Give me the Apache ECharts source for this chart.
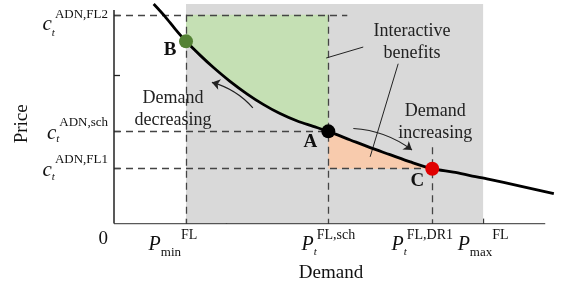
<!DOCTYPE html>
<html>
<head>
<meta charset="utf-8">
<script src="https://cdn.jsdelivr.net/npm/echarts@6/dist/echarts.min.js"></script>
<style>
  html, body { margin: 0; padding: 0; background: #fff; }
  #chart { width: 563px; height: 288px; }
</style>
</head>
<body>
<div id="chart"></div>
<script>
// 需求-价格示意图
const SERIF = "'Liberation Serif', 'Times New Roman', serif";

// 需求轴上的关键点
const pMin = 16.7;
const pSch = 49.7;
const pDR1 = 73.8;
const pMax = 85.6;
const xTicks = [pMin, 26, pSch, pDR1, pMax];
const xTickLabels = [['P', 'min', 'FL'], ['P', 't', 'FL,sch'], ['P', 't', 'FL,DR1'], ['P', 'max', 'FL']];

// 价格轴上的关键点
const cFL2 = 95.1;
const cSch = 42.0;
const cFL1 = 25.0;
const yTicks = [cFL2, 67.4, cSch, cFL1];
const yTickLabels = ['ADN,FL2', 'ADN,sch', 'ADN,FL1'];

// 需求曲线 (demand, price)
const demandCurve = [
  [9.2, 100], [11.8, 94.4], [14.2, 88.6], [16.7, 83.0], [20.0, 76.6], [23.0, 71.2],
  [26.9, 64.8], [30.9, 59.0], [34.6, 54.3], [38.5, 50.1], [42.5, 46.7], [46.2, 44.3],
  [49.7, 42.0], [54.8, 38.1], [59.4, 34.6], [64.0, 31.4], [68.7, 28.1], [73.8, 25.0],
  [78.7, 23.4], [82.6, 21.9], [86.5, 20.4], [94.2, 17.1], [102.0, 13.6]
];

// 工作点 B / A / C
const points = [
  { name: 'B', value: [pMin, 83.0], color: '#548235', offset: [-16, 9] },
  { name: 'A', value: [pSch, cSch], color: '#000000', offset: [-18, 11] },
  { name: 'C', value: [pDR1, cFL1], color: '#e00000', offset: [-15, 12] }
];

// 注释文字
const notes = [
  { text: 'Interactive\nbenefits', value: [69.1, 82.6] },
  { text: 'Demand\nincreasing', value: [74.5, 46.0] },
  { text: 'Demand\ndecreasing', value: [13.7, 52.2] }
];
const leaderLines = [
  [[57.8, 80.4], [49.2, 75.4]],
  [[65.9, 72.8], [59.4, 30.4]]
];
const arrows = [
  { coords: [[32.2, 52.7], [22.7, 64.3]], curveness: -0.15 },
  { coords: [[55.5, 43.3], [69.1, 33.5]], curveness: 0.15 }
];

function onCurve(lo, hi) {
  return demandCurve.filter(p => p[0] >= lo && p[0] <= hi);
}

// 填充区域
const regions = [
  { color: '#d9d9d9', pts: [[pMin, 0], [pMax, 0], [pMax, 100], [pMin, 100]] },
  { color: '#c5e0b4', pts: [[pMin, cFL2], [pSch, cFL2]].concat(onCurve(pMin, pSch).reverse()) },
  { color: '#f8cbad', pts: onCurve(pSch, pDR1).concat([[pSch, cFL1]]) }
];

const dashed = [
  [[0, cFL2], [54.1, cFL2]],
  [[pMin, cFL2], [pMin, 0]],
  [[pSch, cFL2], [pSch, 0]],
  [[0, cSch], [pSch, cSch]],
  [[0, cFL1], [pDR1, cFL1]],
  [[pDR1, 34.8], [pDR1, 0]]
];
const axesLines = [
  [[0, 0], [100, 0]],
  [[0, 0], [0, 97.3]]
];

const txt = { fontFamily: SERIF, color: '#111' };

const chart = echarts.init(document.getElementById('chart'));
chart.setOption({
  animation: false,
  grid: { left: 114, right: 7, top: 4, bottom: 60 },
  xAxis: {
    type: 'value', min: 0, max: 102.5,
    name: 'Demand', nameLocation: 'middle', nameGap: 28,
    nameTextStyle: { fontFamily: SERIF, fontSize: 19, color: '#111', padding: [0, 8, 0, 0] },
    axisLine: { show: false },
    splitLine: { show: false },
    axisTick: { show: true, inside: true, length: 5, customValues: xTicks, lineStyle: { color: '#222', width: 1.3 } },
    axisLabel: {
      margin: 5,
      customValues: [pMin, pSch, pDR1, pMax],
      formatter: function (v) {
        const i = [pMin, pSch, pDR1, pMax].indexOf(v);
        if (i < 0) return '';
        const l = xTickLabels[i];
        const sub = l[1] === 't' ? 'bt' : 'b';
        const sup = i === 0 ? 's26' : (i === 2 ? 's20' : 's');
        return '{P|' + l[0] + '}{' + sub + '|' + l[1] + '}{' + sup + '|' + l[2] + '}';
      },
      rich: {
        P: Object.assign({ fontSize: 20, fontStyle: 'italic' }, txt),
        b: Object.assign({ fontSize: 13, padding: [16, 0, 0, 0] }, txt),
        bt: Object.assign({ fontSize: 11, fontStyle: 'italic', padding: [16, 0, 0, 0] }, txt),
        s: Object.assign({ fontSize: 14, padding: [0, 0, 18, 0] }, txt),
        s26: Object.assign({ fontSize: 14, padding: [0, 26, 18, 0] }, txt),
        s20: Object.assign({ fontSize: 14, padding: [0, 20, 18, 0] }, txt)
      }
    }
  },
  yAxis: {
    type: 'value', min: 0, max: 100,
    name: 'Price', nameLocation: 'middle', nameGap: 82,
    nameTextStyle: { fontFamily: SERIF, fontSize: 19, color: '#111', padding: [0, 20, 0, 0] },
    axisLine: { show: false },
    splitLine: { show: false },
    axisTick: { show: true, inside: true, length: 6, customValues: yTicks, lineStyle: { color: '#222', width: 1.3 } },
    axisLabel: {
      margin: 6,
      customValues: [0, cFL2, cSch, cFL1],
      formatter: function (v) {
        if (v === 0) return '{z|0}';
        const i = [cFL2, cSch, cFL1].indexOf(v);
        if (i < 0) return '';
        if (i === 0) return '{c2|c}{t2|t}{s2|' + yTickLabels[i] + '}';
        return '{c|c}{t|t}{s|' + yTickLabels[i] + '}';
      },
      rich: {
        z: Object.assign({ fontSize: 19, padding: [30, 0, 0, 0] }, txt),
        c: Object.assign({ fontSize: 21, fontStyle: 'italic', padding: [4, 0, 0, 0] }, txt),
        t: Object.assign({ fontSize: 11, fontStyle: 'italic', padding: [16, 0, 0, 0] }, txt),
        s: Object.assign({ fontSize: 13, padding: [0, 0, 18, 0] }, txt),
        c2: Object.assign({ fontSize: 21, fontStyle: 'italic', padding: [20, 0, 0, 0] }, txt),
        t2: Object.assign({ fontSize: 11, fontStyle: 'italic', padding: [36, 0, 0, 0] }, txt),
        s2: Object.assign({ fontSize: 13, padding: [0, 0, 0, 0] }, txt)
      }
    }
  },
  series: [
    {
      type: 'custom',
      silent: true,
      z: 1,
      renderItem: function (params, api) {
        const r = regions[params.dataIndex];
        return {
          type: 'polygon',
          shape: { points: r.pts.map(p => api.coord(p)) },
          style: { fill: r.color }
        };
      },
      data: regions.map(() => [0, 0])
    },
    {
      type: 'lines', coordinateSystem: 'cartesian2d', z: 2, silent: true,
      lineStyle: { color: '#444', width: 1.3, type: [7, 5], opacity: 1 },
      data: dashed.map(c => ({ coords: c }))
    },
    {
      type: 'lines', coordinateSystem: 'cartesian2d', z: 3, silent: true,
      lineStyle: { color: '#222', width: 1.5, opacity: 1 },
      data: axesLines.map(c => ({ coords: c }))
    },
    {
      type: 'lines', coordinateSystem: 'cartesian2d', z: 3, silent: true,
      lineStyle: { color: '#222', width: 1, opacity: 1 },
      data: leaderLines.map(c => ({ coords: c }))
    },
    {
      type: 'lines', coordinateSystem: 'cartesian2d', z: 3, silent: true,
      symbol: ['none', 'arrow'], symbolSize: 8,
      lineStyle: { color: '#222', width: 1.2, opacity: 1 },
      data: arrows.map(a => ({ coords: a.coords, lineStyle: { curveness: a.curveness } }))
    },
    {
      type: 'line', z: 4, silent: true,
      data: demandCurve, smooth: 0.3, showSymbol: false,
      lineStyle: { color: '#000', width: 2.8 }
    },
    {
      type: 'scatter', z: 5, silent: true,
      symbolSize: 14,
      itemStyle: { opacity: 1 },
      data: points.map(p => ({
        name: p.name, value: p.value,
        itemStyle: { color: p.color, opacity: 1 },
        label: {
          show: true, formatter: '{b}', position: 'inside', offset: p.offset,
          fontFamily: SERIF, fontSize: 19, fontWeight: 'bold', color: '#111',
          textBorderWidth: 0, opacity: 1
        }
      }))
    },
    {
      type: 'scatter', z: 5, silent: true,
      symbolSize: 0,
      itemStyle: { opacity: 1 },
      data: notes.map(n => ({
        name: n.text, value: n.value,
        label: {
          show: true, formatter: '{b}', position: 'inside',
          fontFamily: SERIF, fontSize: 18, lineHeight: 22, color: '#222',
          textBorderWidth: 0, opacity: 1
        }
      }))
    }
  ]
});
</script>
</body>
</html>
